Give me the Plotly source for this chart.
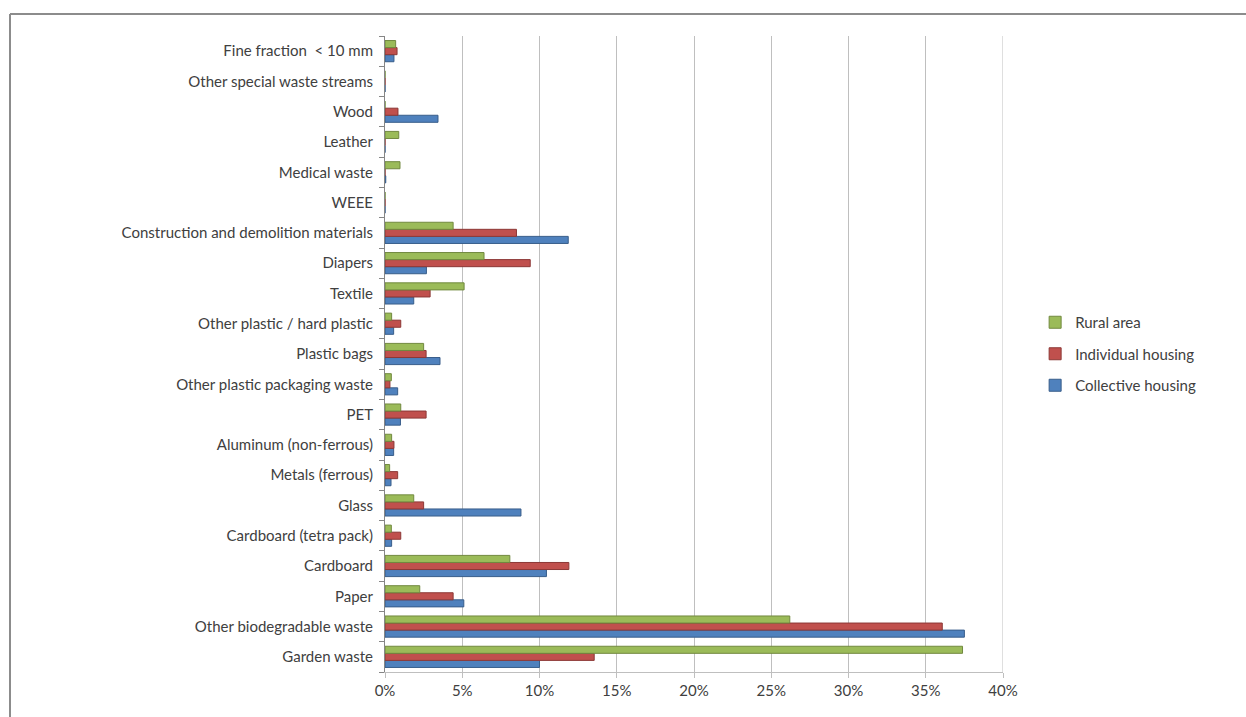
import plotly.graph_objects as go

# Waste categories, bottom to top
categories = [
    "Garden waste",
    "Other biodegradable waste",
    "Paper",
    "Cardboard",
    "Cardboard (tetra pack)",
    "Glass",
    "Metals (ferrous)",
    "Aluminum (non-ferrous)",
    "PET",
    "Other plastic packaging waste",
    "Plastic bags",
    "Other plastic / hard plastic",
    "Textile",
    "Diapers",
    "Construction and demolition materials",
    "WEEE",
    "Medical waste",
    "Leather",
    "Wood",
    "Other special waste streams",
    "Fine fraction  < 10 mm",
]

# Share of each fraction in total waste (fractions of 1)
collective_housing = [0.100, 0.375, 0.051, 0.1045, 0.0043, 0.088, 0.0039, 0.0056, 0.010,
                      0.0082, 0.0356, 0.0056, 0.0186, 0.0268, 0.1186, 0.0, 0.0005, 0.0,
                      0.0343, 0.0, 0.0058]
individual_housing = [0.1354, 0.3607, 0.0441, 0.119, 0.0102, 0.025, 0.0082, 0.0058, 0.0266,
                      0.0032, 0.0266, 0.0102, 0.0292, 0.094, 0.0851, 0.0, 0.0, 0.0,
                      0.0084, 0.0, 0.0078]
rural_area = [0.3738, 0.262, 0.0225, 0.0808, 0.0041, 0.0186, 0.003, 0.0043, 0.0102,
              0.0041, 0.025, 0.0043, 0.0512, 0.0641, 0.0441, 0.0, 0.0097, 0.0089,
              0.0, 0.0, 0.0069]

x_ticks = [0, 0.05, 0.10, 0.15, 0.20, 0.25, 0.30, 0.35, 0.40]
x_tick_labels = ["0%", "5%", "10%", "15%", "20%", "25%", "30%", "35%", "40%"]

# (name, values, fill, edge, legend rank)
series = [
    ("Collective housing", collective_housing, "#4F81BD", "#385D8A", 3),
    ("Individual housing", individual_housing, "#C0504D", "#8C3836", 2),
    ("Rural area", rural_area, "#9BBB59", "#71893F", 1),
]

FONT = "Lato, 'Open Sans', sans-serif"
TEXT = "#404040"
GRID = "#BFBFBF"

fig = go.Figure()
for name, vals, color, edge, rank in series:
    fig.add_trace(go.Bar(
        y=categories,
        x=vals,
        name=name,
        orientation="h",
        legendgroup=name,
        legendrank=rank,
        marker=dict(color=color, line=dict(color=edge, width=1)),
    ))

fig.update_layout(
    width=1246,
    height=717,
    paper_bgcolor="white",
    plot_bgcolor="white",
    barmode="group",
    bargap=0.3,
    bargroupgap=0.0,
    margin=dict(l=385, r=243, t=36, b=45),
    font=dict(family=FONT, size=15, color=TEXT),
    legend=dict(
        x=1.052,
        y=0.5,
        xanchor="left",
        yanchor="middle",
        traceorder="grouped",
        tracegroupgap=9,
        font=dict(family=FONT, size=15, color=TEXT),
        itemwidth=30,
    ),
    showlegend=True,
)

fig.update_xaxes(
    range=[0, 0.40],
    tickvals=x_ticks,
    ticktext=x_tick_labels,
    showgrid=True,
    gridcolor=GRID,
    gridwidth=1,
    zeroline=False,
    showline=True,
    linecolor=GRID,
    linewidth=1,
    ticks="outside",
    ticklen=5,
    tickcolor=GRID,
    tickfont=dict(family=FONT, size=15, color=TEXT),
)

fig.update_yaxes(
    type="category",
    categoryorder="array",
    categoryarray=categories,
    showline=True,
    linecolor="#868686",
    linewidth=1,
    ticks="outside",
    ticklen=5,
    tickcolor="#868686",
    tickson="boundaries",
    showgrid=False,
    tickfont=dict(family=FONT, size=15, color=TEXT),
    ticklabelstandoff=8,
)

# Closing gridline at the right end of the value axis
fig.add_shape(type="line", xref="x", yref="paper", x0=x_ticks[-1], x1=x_ticks[-1],
              y0=0, y1=1, line=dict(color=GRID, width=1), layer="below")

# Chart frame along the top and left edges
fig.add_shape(type="line", xref="paper", yref="paper",
              x0=-375 / 618, x1=(1246 - 385) / 618, y0=(717 - 45 - 14) / 636,
              y1=(717 - 45 - 14) / 636, line=dict(color="#8C8C8C", width=2))
fig.add_shape(type="line", xref="paper", yref="paper",
              x0=-375 / 618, x1=-375 / 618, y0=(717 - 45 - 14) / 636, y1=-45 / 636,
              line=dict(color="#8C8C8C", width=2))

fig.write_html("out.html")
